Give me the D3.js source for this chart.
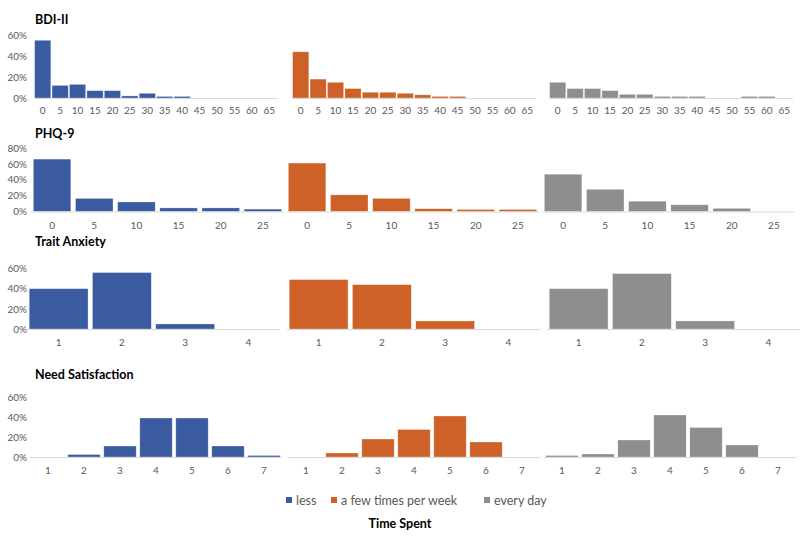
<!DOCTYPE html>
<html>
<head>
<meta charset="utf-8">
<script src="https://cdn.jsdelivr.net/npm/d3@7/dist/d3.min.js"></script>
<style>
  body { margin: 0; background: #fff; }
  svg { display: block; font-family: Lato, "Open Sans", sans-serif; }
</style>
</head>
<body>
<svg id="chart" width="800" height="555"></svg>
<script>
// ---- Data (percent of respondents) ----
const seriesNames = ["less", "a few times per week", "every day"];
const seriesColors = ["#3A5BA0", "#CD6128", "#8E8E8E"];

const bdiCats   = [0, 5, 10, 15, 20, 25, 30, 35, 40, 45, 50, 55, 60, 65];
const bdiLess   = [55, 12, 13, 7, 7, 2, 4.5, 1.5, 1.5, 0, 0, 0, 0, 0];
const bdiFew    = [44, 18, 15, 9, 5.5, 5.5, 4.5, 3, 1.5, 1.5, 0, 0, 0, 0];
const bdiDaily  = [15, 9, 9, 7, 3.5, 3.5, 1.5, 1.5, 1.5, 0, 0, 1.5, 1.5, 0];
const bdiTicks  = [0, 20, 40, 60];

const phqCats   = [0, 5, 10, 15, 20, 25];
const phqLess   = [66, 16.5, 12, 4.5, 4.5, 3];
const phqFew    = [61, 21, 16.5, 3.5, 2.5, 2.5];
const phqDaily  = [47, 28, 13, 8.5, 4, 0];
const phqTicks  = [0, 20, 40, 60, 80];

const traitCats  = [1, 2, 3, 4];
const traitLess  = [40, 56, 5, 0];
const traitFew   = [49, 44, 8, 0];
const traitDaily = [40, 55, 8, 0];
const traitTicks = [0, 20, 40, 60];

const needCats  = [1, 2, 3, 4, 5, 6, 7];
const needLess  = [0, 2.5, 11, 39, 39, 11, 1.5];
const needFew   = [0, 4, 18, 27.5, 41, 15, 0];
const needDaily = [1.5, 3, 17, 42, 29.5, 12, 0];
const needTicks = [0, 20, 40, 60];

// ---- Layout per row ----
const rows = [
  { title: "BDI-II", cats: bdiCats, series: [bdiLess, bdiFew, bdiDaily], ticks: bdiTicks,
    max: 60, base: 98, top: 35, titleY: 24, lefts: [34, 292, 549], width: 244, pad: 0.07, labelY: 114 },
  { title: "PHQ-9", cats: phqCats, series: [phqLess, phqFew, phqDaily], ticks: phqTicks,
    max: 80, base: 211.5, top: 148, titleY: 138, lefts: [31, 286, 542], width: 253, pad: 0.11, labelY: 229 },
  { title: "Trait Anxiety", cats: traitCats, series: [traitLess, traitFew, traitDaily], ticks: traitTicks,
    max: 60, base: 329, top: 268.5, titleY: 246, lefts: [27, 287, 547], width: 253, pad: 0.07, labelY: 346 },
  { title: "Need Satisfaction", cats: needCats, series: [needLess, needFew, needDaily], ticks: needTicks,
    max: 60, base: 457, top: 397, titleY: 379, lefts: [30, 288, 544], width: 252, pad: 0.1, labelY: 474 }
];

const svg = d3.select("#chart");

rows.forEach(row => {
  const y = d3.scaleLinear().domain([0, row.max]).range([row.base, row.top]);

  // title
  svg.append("text")
    .attr("x", 35).attr("y", row.titleY)
    .attr("font-size", 12.5).attr("font-weight", "bold").attr("fill", "#000")
    .text(row.title);

  // y tick labels (first panel only)
  const yAxis = d3.axisLeft(y).tickValues(row.ticks).tickFormat(d => d + "%").tickSize(0).tickPadding(0);
  const yg = svg.append("g").attr("transform", "translate(27,0)").call(yAxis);
  yg.select(".domain").remove();
  yg.selectAll("text").attr("font-size", 10).attr("fill", "#595959").attr("font-family", "Lato, sans-serif");

  row.series.forEach((vals, si) => {
    const left = row.lefts[si];
    const x = d3.scaleBand().domain(row.cats).range([left, left + row.width]).paddingInner(row.pad).paddingOuter(row.pad / 2);
    const g = svg.append("g");

    const data = row.cats.map((c, i) => ({ c, v: vals[i] }));
    g.selectAll("rect").data(data.filter(d => d.v > 0)).join("rect")
      .attr("x", d => x(d.c))
      .attr("width", x.bandwidth())
      .attr("y", d => y(d.v))
      .attr("height", d => y(0) - y(d.v))
      .attr("fill", seriesColors[si])
      .attr("stroke", "#ffffff").attr("stroke-opacity", 0.5).attr("stroke-width", 0.6);

    // baseline
    g.append("line")
      .attr("x1", left).attr("x2", left + row.width)
      .attr("y1", y(0) + 0.5).attr("y2", y(0) + 0.5)
      .attr("stroke", "#d9d9d9").attr("stroke-width", 1);

    // x labels
    const xAxis = d3.axisBottom(x).tickSize(0).tickPadding(0);
    const xg = svg.append("g").attr("transform", `translate(0,${row.labelY - 7})`).call(xAxis);
    xg.select(".domain").remove();
    xg.selectAll("text").attr("font-size", 10).attr("fill", "#595959")
      .attr("font-family", "Lato, sans-serif").attr("dy", "0.71em");
  });
});

// ---- Legend ----
const legendX = [286, 331, 484];
const legend = svg.append("g");
seriesNames.forEach((name, i) => {
  legend.append("rect")
    .attr("x", legendX[i]).attr("y", 497).attr("width", 6).attr("height", 6)
    .attr("fill", seriesColors[i]);
  legend.append("text")
    .attr("x", legendX[i] + 10).attr("y", 505)
    .attr("font-size", 12.5).attr("fill", "#595959")
    .text(name);
});

svg.append("text")
  .attr("x", 400).attr("y", 528).attr("text-anchor", "middle")
  .attr("font-size", 12.5).attr("font-weight", "bold").attr("fill", "#000")
  .text("Time Spent");
</script>
</body>
</html>
